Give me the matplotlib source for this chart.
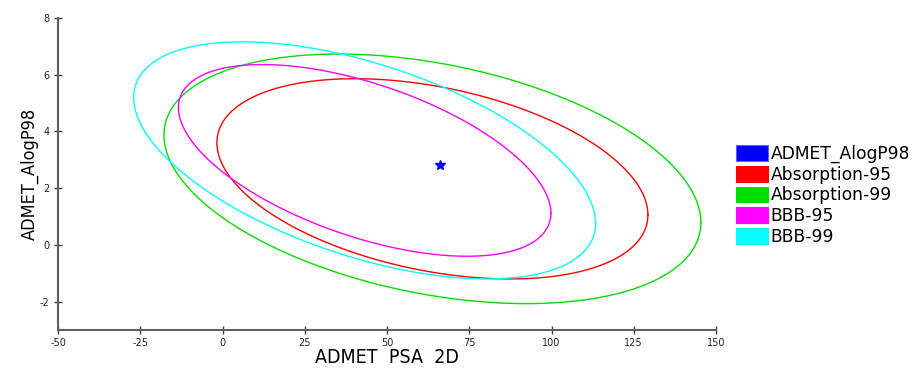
import numpy as np
import matplotlib
matplotlib.use('Agg')
import matplotlib.pyplot as plt
from matplotlib.patches import Patch

plt.rcParams['axes.unicode_minus'] = False

# confidence ellipses (data units)
names = ['Absorption-95', 'Absorption-99', 'BBB-95', 'BBB-99']
colors = ['#ff0000', '#00e000', '#ff00ff', '#00ffff']
center_x = [63.8, 63.8, 43.2, 43.2]
center_y = [2.33, 2.33, 2.98, 2.98]
half_x = [65.5, 81.6, 56.6, 70.2]     # half of x extent
half_y = [3.53, 4.40, 3.38, 4.18]     # half of y extent
rho = [-0.36, -0.35, -0.55, -0.53]    # tilt (y/x coupling)

# the compound point
point_name = 'ADMET_AlogP98'
point_x = [66.1]
point_y = [2.82]

xticks = [-50, -25, 0, 25, 50, 75, 100, 125, 150]
yticks = [-2, 0, 2, 4, 6, 8]

fig = plt.figure(figsize=(9.15, 3.68), dpi=100)
ax = fig.add_axes([58/915, 1-330/368, (716-58)/915, (330-18)/368])

t = np.linspace(0, 2*np.pi, 400)
for i in range(len(names)):
    phi = np.arccos(rho[i])
    ex = center_x[i] + half_x[i]*np.cos(t)
    ey = center_y[i] + half_y[i]*np.cos(t - phi)
    ax.plot(ex, ey, color=colors[i], lw=1.0)

ax.plot(point_x, point_y, marker='*', color='#0000ff', ms=7, ls='none')

ax.set_xlim(-50, 150)
ax.set_ylim(-3, 8)
ax.set_xticks(xticks)
ax.set_yticks(yticks)
for s in ['top', 'right']:
    ax.spines[s].set_visible(False)
for s in ['left', 'bottom']:
    ax.spines[s].set_color('#606060')
    ax.spines[s].set_linewidth(1.5)
ax.tick_params(direction='inout', length=6, width=1, color='#404040', labelsize=7, labelcolor='#222222', pad=3)

ax.set_xlabel('ADMET  PSA  2D', fontsize=14, family='DejaVu Sans', stretch='condensed', labelpad=0)
ax.set_ylabel('ADMET_AlogP98', fontsize=13, family='DejaVu Sans', stretch='condensed', labelpad=1)

handles = [Patch(facecolor='#0000ff', edgecolor='#6060ff', lw=0.8)]
handles += [Patch(facecolor=c, edgecolor=c, lw=0.8) for c in colors]
labels = [point_name] + names
fig.legend(handles, labels, loc='upper left', bbox_to_anchor=(736/915, 1-145/368),
           frameon=False, fontsize=12.3, handlelength=1.9, handleheight=1.05,
           handletextpad=0.12, labelspacing=0.15, borderpad=0, borderaxespad=0)

fig.savefig('out.png', dpi=100)
